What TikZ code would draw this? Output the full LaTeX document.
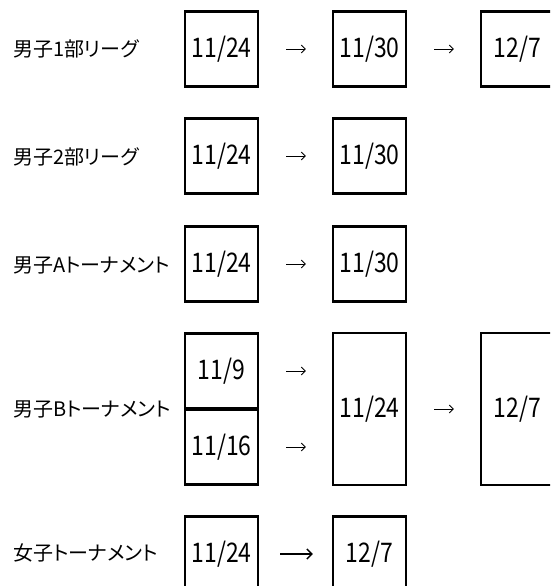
\documentclass[tikz,border=0pt]{standalone}
\usepackage{fontspec}
\usetikzlibrary{arrows.meta}
\setmainfont{Noto Sans CJK JP}
\newfontfamily\jpfont[RawFeature=+palt]{Noto Sans CJK JP}
\newfontfamily\datefont[FakeStretch=0.85]{Noto Sans CJK JP}
\begin{document}
\begin{tikzpicture}[x=1pt,y=-1pt,
	datebox/.style={draw,line width=2.2pt,minimum width=73pt,minimum height=75pt,inner sep=0pt,
		font=\datefont\fontsize{27}{27}\selectfont},
	tallbox/.style={datebox,minimum height=152pt},
	teamlabel/.style={anchor=west,inner sep=0pt,font=\jpfont\fontsize{20}{20}\selectfont},
	nextarrow/.style={-{Straight Barb[length=4pt,width=8pt]},line width=0.9pt,shorten <=27pt,shorten >=26pt},
	boldarrow/.style={-{Straight Barb[length=5pt,width=10pt]},line width=1.5pt,shorten <=21pt,shorten >=19pt}]
				\useasboundingbox (0,0) rectangle (550,586);
				\clip (0,0) rectangle (550,586);
				
				\node[teamlabel] (l1) at (13,49) {男子1部リーグ};
				\node[teamlabel] (l2) at (13,157) {男子2部リーグ};
				\node[teamlabel] (l3) at (13,265) {男子Aトーナメント};
				\node[teamlabel] (l4) at (13,409) {男子Bトーナメント};
				\node[teamlabel] (l5) at (13,553) {女子トーナメント};
				
				\node[datebox] (a1) at (221.5,49) {11/24};
				\node[datebox] (a2) at (369.5,49) {11/30};
				\node[datebox] (a3) at (517.5,49) {12/7};
				\draw[nextarrow] (a1) -- (a2);
				\draw[nextarrow] (a2) -- (a3);
				
				\node[datebox] (b1) at (221.5,156) {11/24};
				\node[datebox] (b2) at (369.5,156) {11/30};
				\draw[nextarrow] (b1) -- (b2);
				
				\node[datebox] (c1) at (221.5,264) {11/24};
				\node[datebox] (c2) at (369.5,264) {11/30};
				\draw[nextarrow] (c1) -- (c2);
				
				\node[datebox] (d1) at (221.5,371) {11/9};
				\node[datebox] (d2) at (221.5,447) {11/16};
				\node[tallbox] (d3) at (369.5,409) {11/24};
				\node[tallbox] (d4) at (517.5,409) {12/7};
				\draw[nextarrow] (d1.east) -- (d1.east -| d3.west);
				\draw[nextarrow] (d2.east) -- (d2.east -| d3.west);
				\draw[nextarrow] (d3) -- (d4);
				
				\node[datebox] (e1) at (221.5,554) {11/24};
				\node[datebox] (e2) at (369.5,554) {12/7};
				\draw[boldarrow] (e1) -- (e2);
				
			\end{tikzpicture}
\end{document}
